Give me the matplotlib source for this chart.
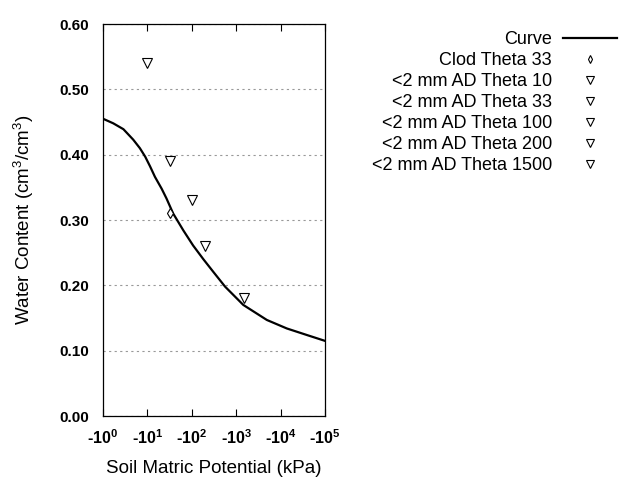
import matplotlib.pyplot as plt
from matplotlib.ticker import FixedLocator, FuncFormatter
import numpy as np

plt.rcParams['font.family'] = ['Liberation Sans', 'DejaVu Sans']
plt.rcParams['mathtext.fontset'] = 'custom'
plt.rcParams['mathtext.rm'] = 'Liberation Sans'
plt.rcParams['mathtext.bf'] = 'Liberation Sans:bold'

# fitted retention curve (|kPa|, cm3/cm3)
curve_kpa = [1, 1.7, 2.88, 4.79, 6.76, 8.91, 11.5, 14.8, 20.9, 26.9, 38.0,
             64.6, 107, 182, 302, 562, 1445, 4900, 13800, 38900, 100000]
curve_theta = [0.455, 0.448, 0.439, 0.423, 0.410, 0.397, 0.382, 0.366,
               0.348, 0.333, 0.310, 0.284, 0.261, 0.240, 0.221, 0.198,
               0.170, 0.147, 0.134, 0.124, 0.115]

clod_kpa = [33]
clod_theta = [0.31]

ad_labels = ['<2 mm AD Theta 10', '<2 mm AD Theta 33', '<2 mm AD Theta 100',
             '<2 mm AD Theta 200', '<2 mm AD Theta 1500']
ad_kpa = [10, 33, 100, 200, 1500]
ad_theta = [0.54, 0.39, 0.33, 0.26, 0.18]

fig = plt.figure(figsize=(6.4, 4.8), dpi=100)
ax = fig.add_axes([103 / 640, 1 - 416 / 480, 222 / 640, 392 / 480])

ax.plot(curve_kpa, curve_theta, color='black', lw=1.6, label='Curve')
ax.plot(clod_kpa, clod_theta, 'd', ms=5, mfc='white', mec='black', mew=0.8,
        label='Clod Theta 33')
for lab, xv, yv in zip(ad_labels, ad_kpa, ad_theta):
    ax.plot([xv], [yv], 'v', ms=6.5, mfc='white', mec='black', mew=0.8,
            label=lab)

ax.set_xscale('log')
ax.set_xlim(1, 1e5)
ax.set_ylim(0, 0.6)
ax.xaxis.set_major_locator(FixedLocator([10 ** i for i in range(6)]))
ax.xaxis.set_minor_locator(FixedLocator([]))
ax.xaxis.set_major_formatter(FuncFormatter(
    lambda v, p: r'-$\mathbf{10^{%d}}$' % round(np.log10(v))))
ax.set_yticks(np.arange(0, 0.61, 0.1))
ax.yaxis.set_major_formatter(FuncFormatter(lambda v, p: '%.2f' % v))

ax.tick_params(axis='x', direction='in', top=True, length=5, width=0.8,
               pad=9, labelsize=11.5)
ax.tick_params(axis='y', length=0, pad=10, labelsize=11)
for t in ax.get_yticklabels() + ax.get_xticklabels():
    t.set_fontweight('bold')
for s in ax.spines.values():
    s.set_linewidth(0.9)

ax.grid(axis='y', linestyle=(0, (2, 3)), color='#999999', lw=0.8)

ax.set_xlabel('Soil Matric Potential (kPa)', fontsize=13.5, labelpad=9)
ax.set_ylabel(r'Water Content (cm$^3$/cm$^3$)', fontsize=13.5, labelpad=17)

ax.legend(loc='upper right', bbox_to_anchor=(617 / 640, 1 - 31 / 480),
          bbox_transform=fig.transFigure, frameon=False, markerfirst=False,
          fontsize=13, handlelength=3.0, handletextpad=0.6,
          labelspacing=0.22, borderpad=0, borderaxespad=0, markerscale=0.8)

fig.savefig('out.png', dpi=100)
